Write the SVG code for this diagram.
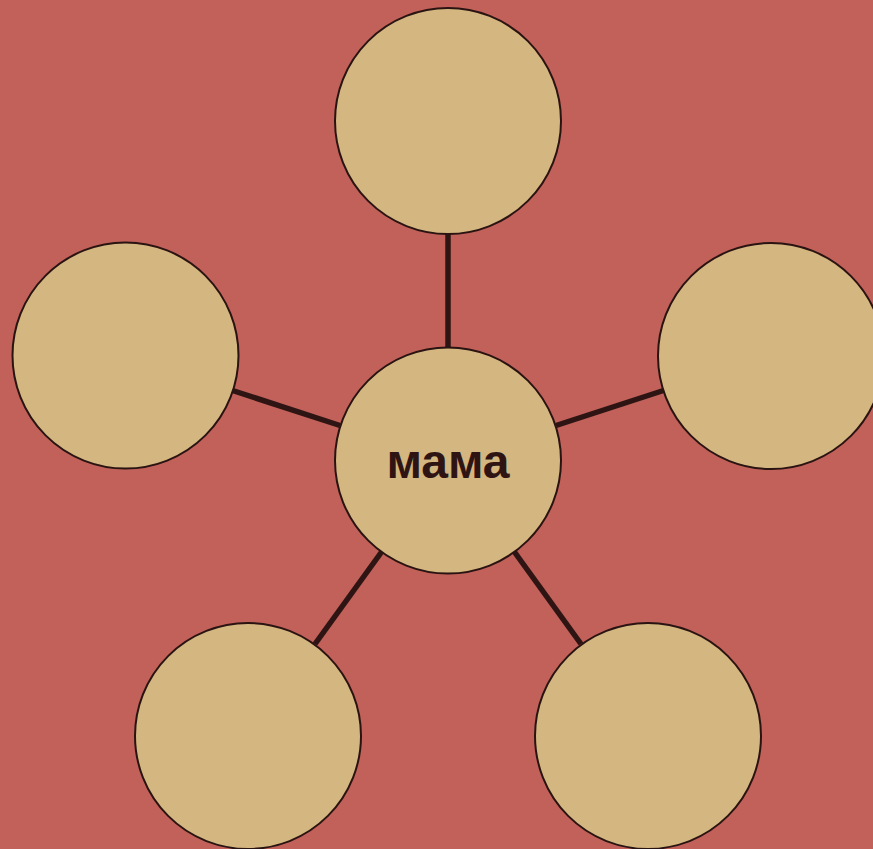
<svg xmlns="http://www.w3.org/2000/svg" width="873" height="849" viewBox="0 0 873 849">
<style>
.node{fill:#d4b680;stroke:#2a1412;stroke-width:2}
.conn{stroke:#2e1513;stroke-width:5.5;fill:none}
.label{font-family:"Liberation Sans",Arial,sans-serif;font-weight:bold;font-size:48px;fill:#2e1513;text-anchor:middle}
</style>
<rect width="873" height="849" fill="#c2605a"/>
<g id="connectors">
<line class="conn" x1="448" y1="347" x2="448" y2="234"/>
<line class="conn" x1="340" y1="425.5" x2="232.5" y2="390.5"/>
<line class="conn" x1="556" y1="425.5" x2="663.5" y2="390.5"/>
<line class="conn" x1="381.5" y1="552" x2="315" y2="644"/>
<line class="conn" x1="514.5" y1="552" x2="581" y2="644"/>
</g>
<g id="node-top"><circle class="node" cx="448" cy="121" r="113"/></g>
<g id="node-left"><circle class="node" cx="125.5" cy="355.5" r="113"/></g>
<g id="node-right"><circle class="node" cx="771" cy="356" r="113"/></g>
<g id="node-bottom-left"><circle class="node" cx="248" cy="736" r="113"/></g>
<g id="node-bottom-right"><circle class="node" cx="648" cy="736" r="113"/></g>
<g id="node-center"><circle class="node" cx="448" cy="460.5" r="113"/><text class="label" x="448" y="478">мама</text></g>
</svg>
